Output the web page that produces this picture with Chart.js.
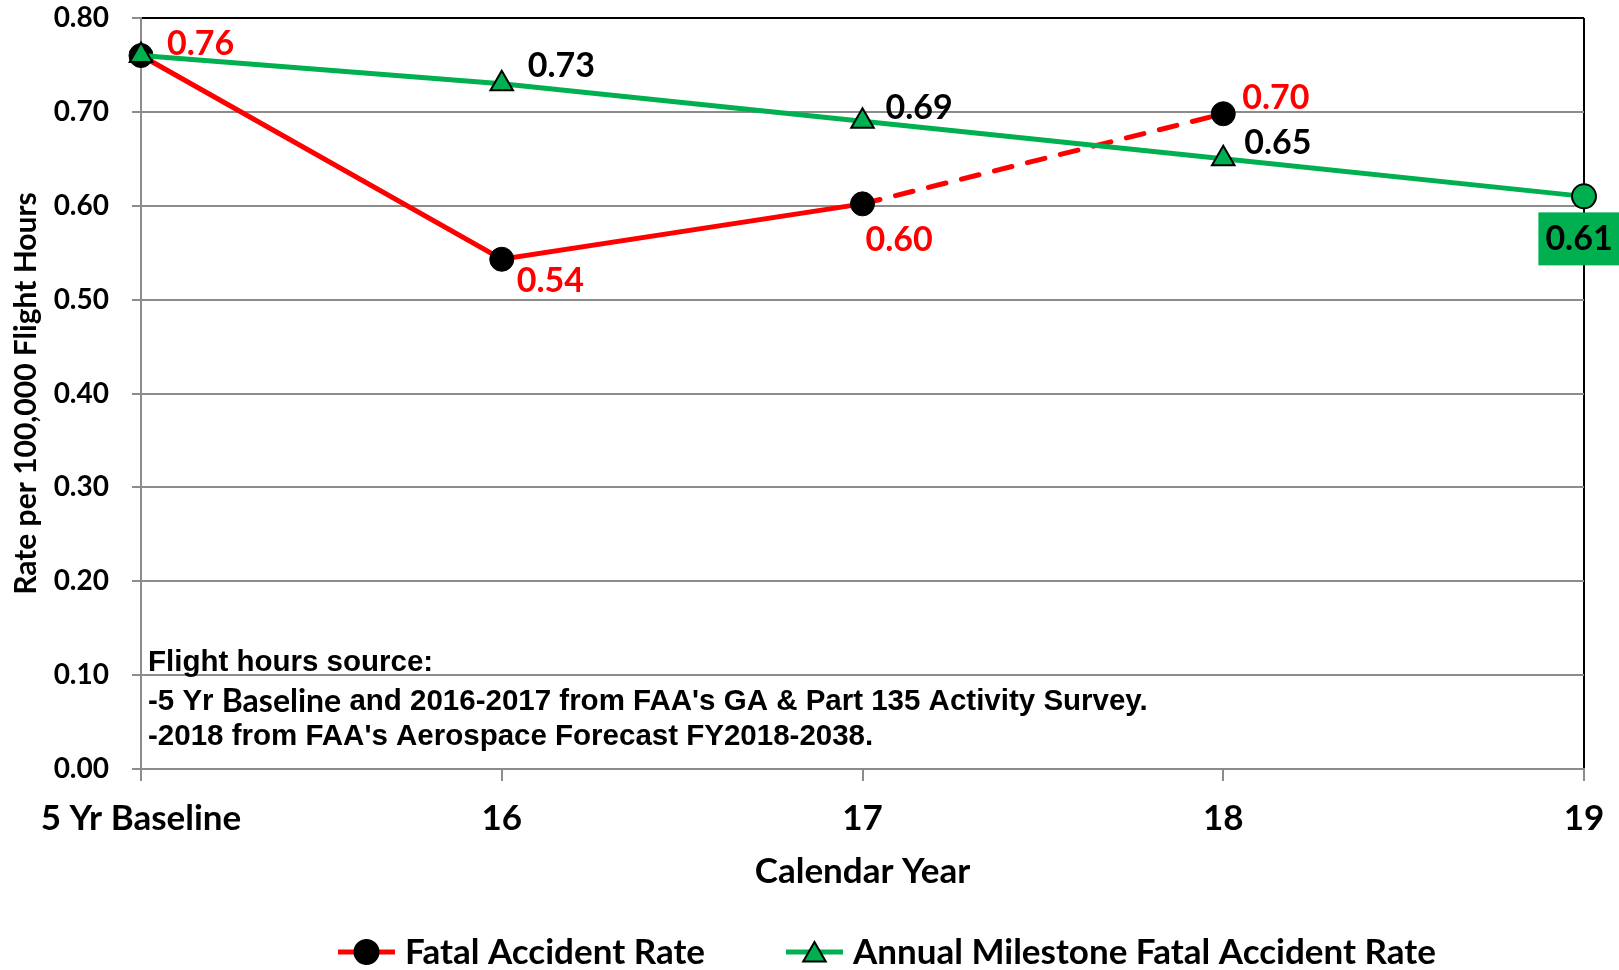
<!DOCTYPE html>
<html>
<head>
<meta charset="utf-8">
<script src="https://cdn.jsdelivr.net/npm/chart.js@4/dist/chart.umd.min.js"></script>
<style>
  html, body { margin: 0; padding: 0; background: #fff; overflow: hidden; }
</style>
</head>
<body>
<canvas id="chart" width="1619" height="970"></canvas>
<script>
// chart data
const years = ['5 Yr Baseline', '16', '17', '18', '19'];
const fatalRate = [0.76, 0.543, 0.602, 0.698, null];
const milestoneRate = [0.76, 0.73, 0.69, 0.65, 0.61];
const yMin = 0, yMax = 0.8, yStep = 0.1;
const sourceNote = [
  'Flight hours source:',
  "-5 Yr Baseline and 2016-2017 from FAA's GA & Part 135 Activity Survey.",
  "-2018 from FAA's Aerospace Forecast FY2018-2038."
];

const FONT = 'Lato, "Noto Sans", sans-serif';
const NOTE_FONT = 'bold 29.5px "Liberation Sans", Arial, sans-serif';
const RED = '#FF0000';
const GREEN = '#00B050';
const GRID = '#8C8C8C';

// value labels next to points; offsets are [dx, dy, kind]
const valueLabels = {
  id: 'valueLabels',
  afterDatasetsDraw(chart) {
    const ctx = chart.ctx;
    chart.data.datasets.forEach((ds, i) => {
      const meta = chart.getDatasetMeta(i);
      const offs = ds.labelOffsets || [];
      meta.data.forEach((pt, j) => {
        const v = ds.data[j];
        const o = offs[j];
        if (v == null || !o) return;
        const text = v.toFixed(2);
        const x = pt.x + o[0], y = pt.y + o[1];
        ctx.save();
        ctx.font = 'bold 34px ' + FONT;
        ctx.textBaseline = 'middle';
        if (o[2] === 'box') {
          const w = ctx.measureText(text).width + 14;
          ctx.fillStyle = GREEN;
          ctx.fillRect(x - w / 2, y - 26, w, 53);
          ctx.textAlign = 'center';
          ctx.fillStyle = '#000';
          ctx.fillText(text, x, y + 1);
        } else {
          ctx.textAlign = 'left';
          ctx.fillStyle = ds.labelColor;
          ctx.fillText(text, x, y);
        }
        ctx.restore();
      });
    });
  }
};

// footnote inside the plot area ("Baseline" was typed in the chart font)
const noteText = {
  id: 'noteText',
  afterDatasetsDraw(chart, args, opts) {
    const ctx = chart.ctx;
    ctx.save();
    ctx.fillStyle = '#000';
    ctx.textBaseline = 'middle';
    ctx.textAlign = 'left';
    sourceNote.forEach((line, i) => {
      let x = opts.x;
      const parts = i === 1 ? line.split(/(Baseline)/) : [line];
      parts.forEach(p => {
        ctx.font = p === 'Baseline' ? 'bold 32px ' + FONT : NOTE_FONT;
        ctx.fillText(p, x, opts.y[i]);
        x += ctx.measureText(p).width;
      });
    });
    ctx.restore();
  }
};

// Excel style legend: line with marker, then text
const bottomLegend = {
  id: 'bottomLegend',
  afterDraw(chart, args, opts) {
    const ctx = chart.ctx;
    let x = opts.x;
    const y = opts.y;
    ctx.save();
    ctx.font = 'bold 35px ' + FONT;
    ctx.textBaseline = 'middle';
    ctx.textAlign = 'left';
    chart.data.datasets.forEach(ds => {
      ctx.strokeStyle = ds.borderColor;
      ctx.lineWidth = ds.borderWidth;
      ctx.beginPath();
      ctx.moveTo(x, y);
      ctx.lineTo(x + opts.lineLen, y);
      ctx.stroke();
      ctx.fillStyle = ds.legendFill;
      ctx.strokeStyle = '#000';
      ctx.lineWidth = 2;
      Chart.helpers.drawPoint(ctx, {
        pointStyle: ds.legendStyle, radius: ds.legendRadius, borderWidth: 2, rotation: 0
      }, x + opts.lineLen / 2, y + (ds.legendStyle === 'triangle' ? 3 : 0));
      x += opts.lineLen + opts.textGap;
      ctx.fillStyle = '#000';
      ctx.fillText(ds.label, x, y + 1);
      x += ctx.measureText(ds.label).width + opts.itemGap;
    });
    ctx.restore();
  }
};

new Chart(document.getElementById('chart').getContext('2d'), {
  type: 'line',
  data: {
    labels: years,
    datasets: [
      {
        label: 'Fatal Accident Rate',
        data: fatalRate,
        order: 1,
        borderColor: RED,
        borderWidth: 5,
        borderCapStyle: 'round',
        pointStyle: 'circle',
        pointRadius: 12,
        pointBackgroundColor: '#000',
        pointBorderColor: '#000',
        pointBorderWidth: 1,
        segment: {
          borderDash: c => c.p0DataIndex === 2 ? [18, 16] : undefined
        },
        clip: false,
        labelColor: RED,
        labelOffsets: [[26, -12], [15, 22], [3, 36], [19, -16], null],
        legendStyle: 'circle',
        legendRadius: 12,
        legendFill: '#000'
      },
      {
        label: 'Annual Milestone Fatal Accident Rate',
        data: milestoneRate,
        order: 0,
        borderColor: GREEN,
        borderWidth: 5,
        pointStyle: ['triangle', 'triangle', 'triangle', 'triangle', 'circle'],
        pointRadius: [13, 13, 13, 13, 12],
        pointBackgroundColor: GREEN,
        pointBorderColor: '#000',
        pointBorderWidth: 2,
        clip: false,
        labelColor: '#000',
        labelOffsets: [null, [26, -18], [23, -13], [21, -16], [-5, 42, 'box']],
        legendStyle: 'triangle',
        legendRadius: 13,
        legendFill: GREEN
      }
    ]
  },
  options: {
    responsive: false,
    animation: false,
    layout: { padding: { top: 18, right: 35, bottom: 77, left: 0 } },
    scales: {
      x: {
        offset: false,
        afterFit: s => { s.height = 124; s.paddingLeft = 0; s.paddingRight = 0; },
        grid: {
          drawOnChartArea: true,
          color: c => c.index === years.length - 1 ? '#000' : 'rgba(0,0,0,0)',
          tickColor: GRID,
          tickLength: 12,
          lineWidth: 2
        },
        border: { color: GRID, width: 2 },
        ticks: {
          color: '#000',
          padding: 17,
          maxRotation: 0,
          autoSkip: false,
          font: { family: FONT, size: 35, weight: 'bold' }
        },
        title: {
          display: true,
          text: 'Calendar Year',
          color: '#000',
          padding: { top: 0, bottom: 0 },
          font: { family: FONT, size: 35, weight: 'bold' }
        }
      },
      y: {
        min: yMin,
        max: yMax,
        afterFit: s => { s.width = 141; s.paddingTop = 0; s.paddingBottom = 0; },
        grid: {
          color: c => c.tick && Math.abs(c.tick.value - yMax) < 1e-9 ? '#000' : GRID,
          tickColor: GRID,
          tickLength: 9,
          lineWidth: 2
        },
        border: { color: GRID, width: 2 },
        ticks: {
          stepSize: yStep,
          color: '#000',
          padding: 23,
          font: { family: FONT, size: 28, weight: 'bold' },
          callback: v => v.toFixed(2)
        },
        title: {
          display: true,
          text: 'Rate per 100,000 Flight Hours',
          color: '#000',
          padding: { top: 8, bottom: 0 },
          font: { family: FONT, size: 30, weight: 'bold' }
        }
      }
    },
    plugins: {
      legend: { display: false },
      tooltip: { enabled: false },
      noteText: { x: 148, y: [663, 702, 737] },
      bottomLegend: { x: 338, y: 952, lineLen: 57, textGap: 10, itemGap: 81 }
    }
  },
  plugins: [valueLabels, noteText, bottomLegend]
});
</script>
</body>
</html>
